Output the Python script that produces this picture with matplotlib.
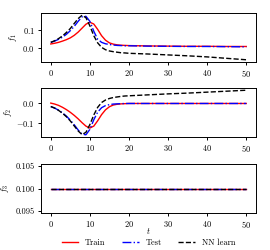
import matplotlib
matplotlib.use("Agg")
import numpy as np
import matplotlib.pyplot as plt

plt.rcParams['font.family'] = 'serif'
plt.rcParams['font.serif'] = ['cmr10']
plt.rcParams['mathtext.fontset'] = 'cm'
plt.rcParams['axes.formatter.use_mathtext'] = True
plt.rcParams['font.size'] = 6
plt.rcParams['axes.unicode_minus'] = True

# sample times
t = [0, 1, 2, 3, 4, 5, 6, 7, 8, 9, 10, 11, 12, 13, 14, 15, 16, 17, 18, 19, 20,
     25, 30, 35, 40, 45, 50]

# f1
f1_train = [0.024, 0.028, 0.033, 0.040, 0.048, 0.058, 0.072, 0.090, 0.112, 0.134, 0.145,
            0.135, 0.105, 0.070, 0.045, 0.030, 0.023, 0.019, 0.017, 0.016, 0.015,
            0.013, 0.012, 0.011, 0.011, 0.010, 0.010]
f1_test = [0.033, 0.040, 0.050, 0.062, 0.078, 0.098, 0.122, 0.150, 0.175, 0.178, 0.150,
           0.095, 0.050, 0.033, 0.025, 0.021, 0.018, 0.016, 0.015, 0.014, 0.014,
           0.012, 0.011, 0.010, 0.010, 0.009, 0.008]
f1_nn = [0.033, 0.042, 0.054, 0.069, 0.088, 0.110, 0.138, 0.165, 0.184, 0.170, 0.125,
         0.070, 0.030, 0.005, -0.008, -0.015, -0.019, -0.022, -0.025, -0.026, -0.028,
         -0.032, -0.037, -0.042, -0.048, -0.056, -0.064]

# f2
f2_train = [0.002, -0.003, -0.010, -0.020, -0.032, -0.046, -0.062, -0.080, -0.100, -0.118, -0.128,
            -0.118, -0.090, -0.058, -0.033, -0.017, -0.008, -0.004, -0.002, -0.001, 0.0,
            0.0, 0.0, 0.0, 0.0, 0.0, 0.0]
f2_test = [-0.016, -0.024, -0.035, -0.049, -0.066, -0.087, -0.111, -0.138, -0.160, -0.163, -0.135,
           -0.085, -0.045, -0.022, -0.011, -0.006, -0.003, -0.002, -0.001, 0.0, 0.0,
           0.0, 0.0, 0.0, 0.0, 0.0, 0.0]
f2_nn = [-0.016, -0.024, -0.036, -0.051, -0.069, -0.091, -0.117, -0.143, -0.162, -0.150, -0.110,
         -0.060, -0.020, 0.005, 0.018, 0.026, 0.031, 0.034, 0.037, 0.039, 0.040,
         0.045, 0.050, 0.054, 0.059, 0.064, 0.069]

# f3 (constant)
f3_train = [0.1] * len(t)
f3_test = [0.1] * len(t)
f3_nn = [0.1] * len(t)

series = [
    (f1_train, f1_test, f1_nn, r'$f_1$'),
    (f2_train, f2_test, f2_nn, r'$f_2$'),
    (f3_train, f3_test, f3_nn, r'$f_3$'),
]

fig = plt.figure(figsize=(2.7, 2.5), dpi=100)
W, H = 270.0, 250.0
boxes = [(41, 13, 256, 62), (41, 88, 256, 137), (41, 164, 256, 213)]
label_x = [19, 14, 11]   # right edge of y-labels, pixels

for (tr, te, nn, lab), (x0, y0, x1, y1), lx in zip(series, boxes, label_x):
    ax = fig.add_axes([x0 / W, 1 - y1 / H, (x1 - x0) / W, (y1 - y0) / H])
    ax.plot(t, tr, color='red', lw=1.0, label='Train')
    ax.plot(t, te, color='blue', lw=1.0, ls='-.', label='Test')
    ax.plot(t, nn, color='black', lw=1.0, ls='--', label='NN learn')
    ax.set_ylabel(lab)
    ax.yaxis.set_label_coords((lx - x0) / (x1 - x0), 0.5)
    ax.set_xticks([0, 10, 20, 30, 40, 50])
    ax.tick_params(labelsize=6, length=2, pad=2.5, width=0.7)
    for s in ax.spines.values():
        s.set_linewidth(0.7)
    if lab == r'$f_3$':
        ax.set_xlabel(r'$t$')
        ax.xaxis.set_label_coords(0.5, -(226 - y1) / (y1 - y0))
        ax.yaxis.set_major_formatter(matplotlib.ticker.FormatStrFormatter('%.3f'))
        ax.set_yticks([0.095, 0.100, 0.105])
        handles, labels = ax.get_legend_handles_labels()

fig.legend(handles, labels, loc='center', bbox_to_anchor=(148.5 / W, 1 - 243 / H),
           ncol=3, frameon=False, fontsize=6, handlelength=2.0, columnspacing=2.0)

plt.savefig('out.png', dpi=100)
